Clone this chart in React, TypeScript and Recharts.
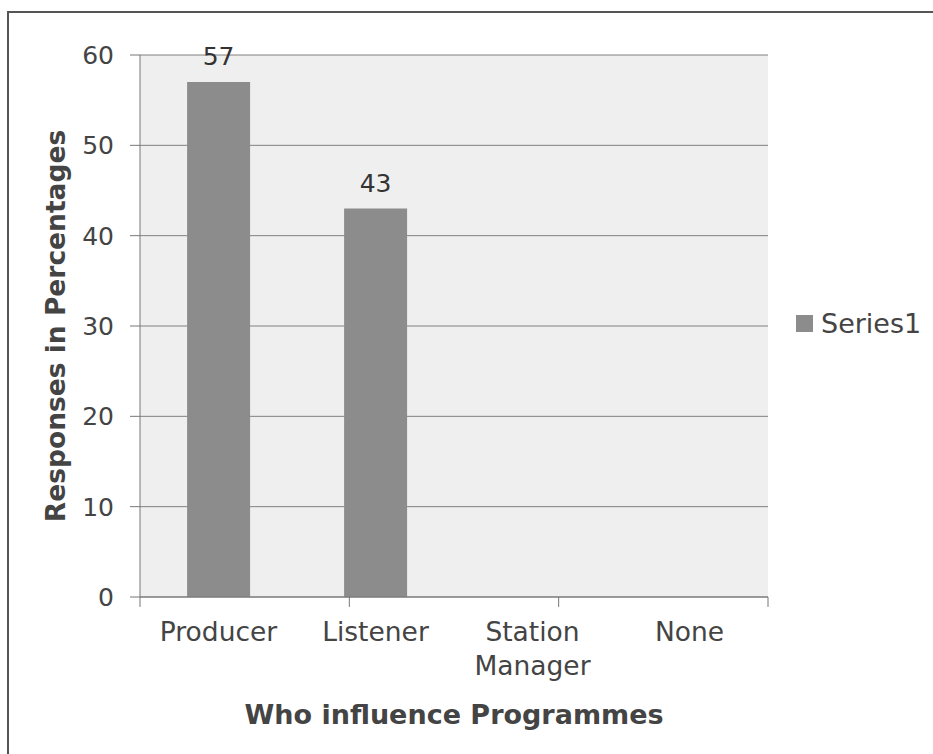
import React from "react";
import {
  Bar,
  BarChart,
  CartesianGrid,
  LabelList,
  Legend,
  ReferenceLine,
  XAxis,
  YAxis,
} from "recharts";

const categories = ["Producer", "Listener", "Station Manager", "None"];
const series1 = [57, 43, 0, 0];
const yTicks = [0, 10, 20, 30, 40, 50, 60];
const edgeTicks = [0, 1, 2, 3, 4];

const data = categories.map((name, i) => ({ name, Series1: series1[i] }));

const FONT = "'DejaVu Sans', Verdana, sans-serif";
const TEXT = "#444";

function CategoryTick(props: any) {
  const { x, y, payload } = props;
  const words = String(payload.value).split(" ");
  return (
    <text x={x} y={y} textAnchor="middle" fill={TEXT} fontSize={26.5} fontFamily={FONT}>
      {words.map((w, i) => (
        <tspan key={i} x={x} dy={i === 0 ? 36 : 34}>
          {w}
        </tspan>
      ))}
    </text>
  );
}

export default function App() {
  return (
    <div style={{ position: "absolute", left: 0, top: 0, width: 933, height: 754, background: "#fff", overflow: "hidden" }}>
      <div
        style={{
          position: "absolute",
          left: 7,
          top: 11,
          width: 1000,
          height: 800,
          borderTop: "2px solid #555",
          borderLeft: "2px solid #555",
        }}
      />
      <BarChart
        width={933}
        height={754}
        data={data}
        margin={{ top: 55, right: 165, bottom: 0, left: 0 }}
        barCategoryGap="30%"
        style={{ position: "absolute", left: 0, top: 0, fontFamily: FONT }}
      >
        <CartesianGrid vertical={false} fill="#efefef" stroke="#808080" />
        <XAxis
          dataKey="name"
          height={157}
          tickLine={false}
          axisLine={{ stroke: "#777" }}
          tick={<CategoryTick />}
          interval={0}
          label={{
            value: "Who influence Programmes",
            position: "insideBottom",
            offset: 30,
            fill: TEXT,
            fontSize: 27,
            fontWeight: "bold",
            fontFamily: FONT,
          }}
        />
        <XAxis xAxisId="edges" type="number" domain={[0, 4]} ticks={edgeTicks} hide />
        <YAxis
          width={140}
          domain={[0, 60]}
          ticks={yTicks}
          interval={0}
          tickSize={10}
          tickMargin={16}
          tickLine={{ stroke: "#777" }}
          axisLine={{ stroke: "#777" }}
          tick={{ fill: TEXT, fontSize: 25, fontFamily: FONT }}
          label={{
            value: "Responses in Percentages",
            angle: -90,
            position: "insideLeft",
            offset: 0,
            content: ({ viewBox }: any) => (
              <text
                x={55}
                y={viewBox.y + viewBox.height / 2}
                transform={`rotate(-90, 55, ${viewBox.y + viewBox.height / 2})`}
                textAnchor="middle"
                dominantBaseline="central"
                fill={TEXT}
                fontSize={26.5}
                fontWeight="bold"
                fontFamily={FONT}
              >
                Responses in Percentages
              </text>
            ),
          }}
        />
        <ReferenceLine xAxisId="edges" x={4} stroke="#777" ifOverflow="visible" />
        {edgeTicks.map((t) => (
          <ReferenceLine
            key={t}
            xAxisId="edges"
            segment={[
              { x: t, y: 0 },
              { x: t, y: -1.1 },
            ]}
            stroke="#777"
            ifOverflow="visible"
          />
        ))}
        <Legend
          layout="vertical"
          align="center"
          verticalAlign="middle"
          iconType="square"
          iconSize={17}
          wrapperStyle={{ left: 796, top: 308, width: "auto" }}
          formatter={(v) => (
            <span style={{ color: TEXT, fontSize: 27, fontFamily: FONT, verticalAlign: "middle", marginLeft: 4 }}>{v}</span>
          )}
        />
        <Bar dataKey="Series1" fill="#8c8c8c" isAnimationActive={false}>
          <LabelList
            dataKey="Series1"
            position="top"
            offset={17}
            fill="#333"
            fontSize={25}
            fontFamily={FONT}
            formatter={(v: any) => (v ? v : "")}
          />
        </Bar>
      </BarChart>
    </div>
  );
}
